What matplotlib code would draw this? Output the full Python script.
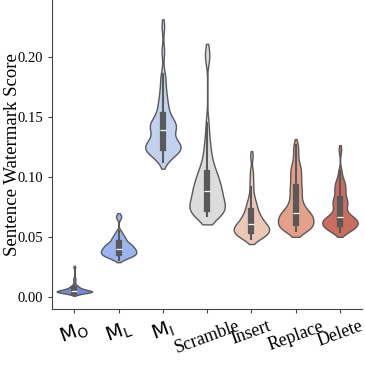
import numpy as np
import pandas as pd
import matplotlib
matplotlib.use('Agg')
import matplotlib.pyplot as plt
import seaborn as sns

# Category labels (x axis)
labels = [r'$\mathrm{M_O}$', r'$\mathrm{M_L}$', r'$\mathrm{M_I}$',
          'Scramble', 'Insert', 'Replace', 'Delete']

# Score samples
m_o = [0.002, 0.0025, 0.003, 0.0032, 0.0035, 0.0036, 0.0037, 0.0038, 0.0039, 0.004,
       0.0041, 0.0042, 0.0043, 0.0044, 0.0045, 0.0046, 0.0047, 0.0048, 0.0049, 0.005,
       0.0051, 0.0052, 0.0053, 0.0055, 0.0057, 0.0059, 0.0061, 0.0063, 0.0066, 0.0069,
       0.0072, 0.0075, 0.008, 0.0085, 0.009, 0.0095, 0.011, 0.0135, 0.0155, 0.025]
m_l = [0.031, 0.032, 0.033, 0.0335, 0.034, 0.0345, 0.035, 0.0352, 0.0355, 0.036,
       0.0365, 0.037, 0.0372, 0.0375, 0.038, 0.0385, 0.039, 0.0393, 0.0396, 0.04,
       0.0405, 0.041, 0.0415, 0.042, 0.0425, 0.043, 0.0435, 0.044, 0.0445, 0.045,
       0.046, 0.047, 0.048, 0.049, 0.05, 0.051, 0.053, 0.055, 0.066, 0.068]
m_i = [0.113, 0.117, 0.119, 0.12, 0.121, 0.122, 0.123, 0.1235, 0.124, 0.124,
       0.125, 0.126, 0.127, 0.128, 0.128, 0.129, 0.13, 0.132, 0.135, 0.139,
       0.14, 0.141, 0.142, 0.143, 0.143, 0.144, 0.145, 0.146, 0.148, 0.151,
       0.154, 0.157, 0.16, 0.164, 0.168, 0.173, 0.18, 0.186, 0.205, 0.226]
scramble = [0.068, 0.069, 0.07, 0.0705, 0.071, 0.0715, 0.072, 0.0725, 0.0725, 0.073,
            0.074, 0.076, 0.078, 0.08, 0.081, 0.082, 0.083, 0.085, 0.086, 0.088,
            0.089, 0.09, 0.091, 0.093, 0.094, 0.096, 0.098, 0.1, 0.101, 0.103,
            0.105, 0.108, 0.111, 0.115, 0.12, 0.126, 0.133, 0.145, 0.2, 0.204]
insert = [0.048, 0.049, 0.05, 0.051, 0.0515, 0.052, 0.0525, 0.053, 0.0535, 0.054,
          0.0555, 0.056, 0.0565, 0.057, 0.0575, 0.058, 0.0585, 0.059, 0.0595, 0.06,
          0.061, 0.062, 0.063, 0.064, 0.065, 0.066, 0.067, 0.068, 0.07, 0.071,
          0.073, 0.075, 0.077, 0.079, 0.082, 0.086, 0.092, 0.098, 0.105, 0.118]
replace = [0.055, 0.056, 0.057, 0.0575, 0.058, 0.0585, 0.059, 0.0595, 0.06, 0.061,
           0.0625, 0.064, 0.065, 0.066, 0.0665, 0.067, 0.0675, 0.068, 0.069, 0.07,
           0.071, 0.072, 0.074, 0.076, 0.078, 0.08, 0.083, 0.086, 0.088, 0.091,
           0.093, 0.096, 0.099, 0.102, 0.105, 0.107, 0.11, 0.115, 0.122, 0.127]
delete = [0.054, 0.055, 0.056, 0.057, 0.0575, 0.058, 0.0585, 0.059, 0.0595, 0.06,
          0.0615, 0.062, 0.0625, 0.063, 0.0635, 0.064, 0.0645, 0.065, 0.0655, 0.066,
          0.067, 0.068, 0.07, 0.072, 0.074, 0.076, 0.078, 0.079, 0.08, 0.081,
          0.083, 0.086, 0.088, 0.09, 0.092, 0.094, 0.096, 0.099, 0.105, 0.123]

groups = [m_o, m_l, m_i, scramble, insert, replace, delete]
df = pd.DataFrame({'method': np.repeat(labels, [len(g) for g in groups]),
                   'score': np.concatenate(groups)})

plt.rcParams['font.family'] = ['Liberation Serif', 'DejaVu Serif']
plt.rcParams['mathtext.fontset'] = 'dejavusans'

fig = plt.figure(figsize=(3.65, 3.66), dpi=100)
ax = fig.add_axes([0.143, 0.156, 0.849, 0.844])

sns.violinplot(data=df, x='method', y='score', hue='method', order=labels,
               palette='coolwarm', density_norm='width', bw_adjust=0.5, cut=1,
               linewidth=1, ax=ax, legend=False)

ax.set_ylim(-0.01, 0.248)
ax.set_yticks([0.0, 0.05, 0.10, 0.15, 0.20])
ax.set_yticklabels(['0.00', '0.05', '0.10', '0.15', '0.20'], fontsize=10.5)
ax.set_xlabel('')
ax.set_ylabel('Sentence Watermark Score', fontsize=13.5)
ax.yaxis.set_label_coords(-0.1, 0.5)

ax.set_xticks(range(len(labels)))
ax.set_xticklabels(labels, rotation=20, ha='center')
for i, t in enumerate(ax.get_xticklabels()):
    t.set_fontsize(14 if i < 3 else 13)

for s in ['top', 'right']:
    ax.spines[s].set_visible(False)
for s in ['left', 'bottom']:
    ax.spines[s].set_color('#444444')
ax.tick_params(length=3, color='#444444')

fig.savefig('out.png', dpi=100)
